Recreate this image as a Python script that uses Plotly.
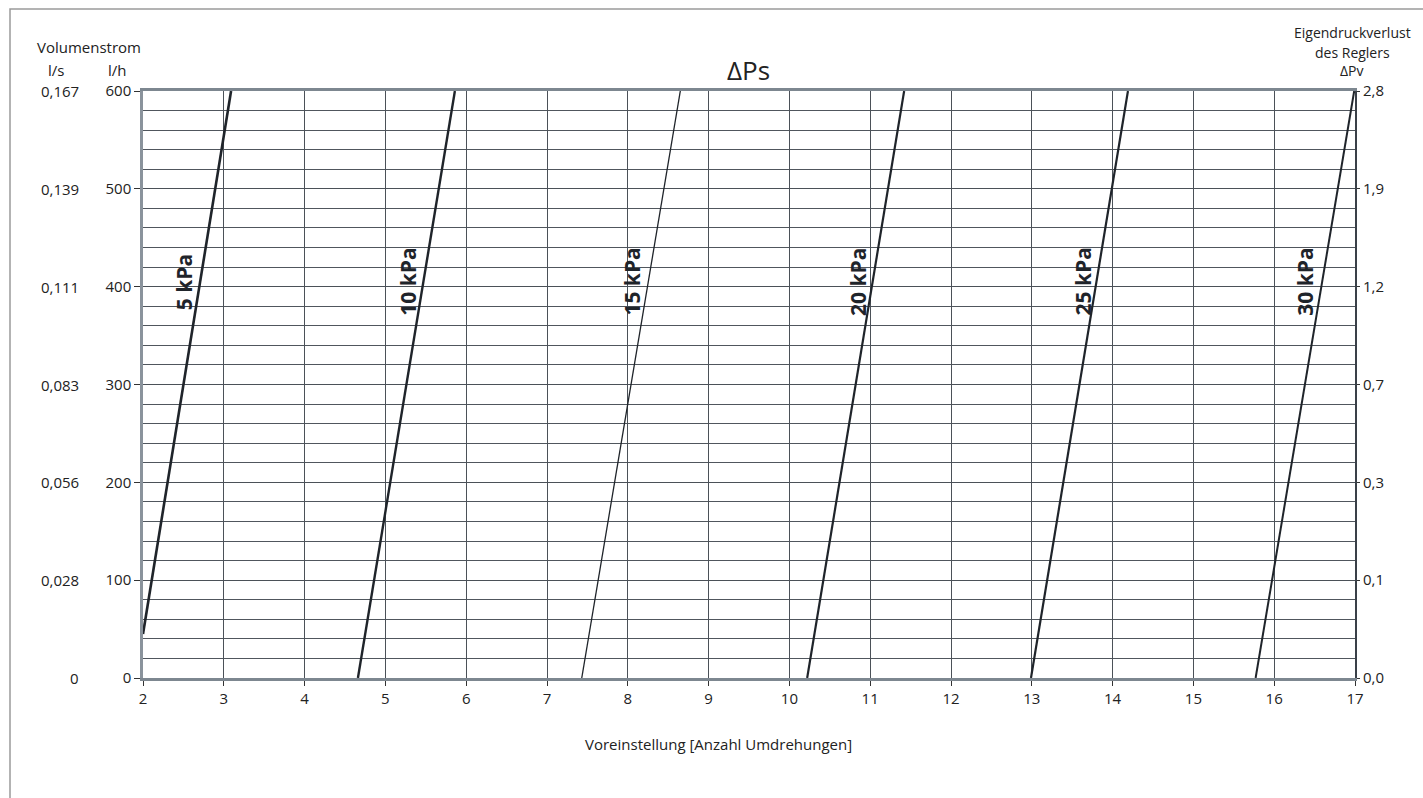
import plotly.graph_objects as go

# ---- data ----
flow_lh_ticks = [0, 100, 200, 300, 400, 500, 600]
flow_ls_labels = ["0", "0,028", "0,056", "0,083", "0,111", "0,139", "0,167"]
dpv_labels = ["0,0", "0,1", "0,3", "0,7", "1,2", "1,9", "2,8"]
x_ticks = list(range(2, 18))

curve_names = ["5 kPa", "10 kPa", "15 kPa", "20 kPa", "25 kPa", "30 kPa"]
curve_x = [[2.0, 3.09], [4.66, 5.86], [7.43, 8.65], [10.22, 11.42], [12.99, 14.19], [15.77, 16.99]]
curve_y = [[45, 600], [0, 600], [0, 600], [0, 600], [0, 600], [0, 600]]
label_x = [2.50, 5.28, 8.05, 10.84, 13.63, 16.38]
label_y = [405, 405, 405, 405, 405, 405]

W, H = 1423, 798
ML, MR, MT, MB = 143, 68, 91, 120
PW, PH = W - ML - MR, H - MT - MB
FONT = "Open Sans"
DARK = "#1f242a"


def px(xp):
    return (xp - ML) / PW


def py(yp):
    return (H - MB - yp) / PH


fig = go.Figure()
widths = [2.6, 2.4, 1.3, 2.2, 2.2, 2.0]
for name, xs, ys, w in zip(curve_names, curve_x, curve_y, widths):
    fig.add_trace(go.Scatter(x=xs, y=ys, mode="lines", name=name,
                             line=dict(color=DARK, width=w), showlegend=False,
                             hoverinfo="skip", cliponaxis=True))

# invisible trace for right axis
fig.add_trace(go.Scatter(x=[2, 17], y=[0, 600], yaxis="y2", mode="markers",
                         marker=dict(opacity=0), showlegend=False, hoverinfo="skip"))

ann = []
for name, lx, ly in zip(curve_names, label_x, label_y):
    ann.append(dict(x=lx, y=ly, xref="x", yref="y", text="<b>%s</b>" % name,
                    textangle=-90, showarrow=False, xanchor="center", yanchor="middle",
                    font=dict(family=FONT, size=21, color=DARK)))

for v, lab in zip(flow_lh_ticks, flow_ls_labels):
    ann.append(dict(x=0, y=v, xref="paper", yref="y", text=lab, showarrow=False,
                    xanchor="right", yanchor="middle", xshift=81 - ML,
                    font=dict(family=FONT, size=15, color="#222")))


def label(xp, yp, text, size=15):
    return dict(x=px(xp), y=py(yp), xref="paper", yref="paper", text=text,
                showarrow=False, xanchor="center", yanchor="middle",
                font=dict(family=FONT, size=size, color="#222"))


ann += [
    label(748, 70, "ΔPs", 26),
    label(89, 47, "Volumenstrom"),
    label(56, 70, "l/s"),
    label(117, 70, "l/h"),
    label(1352, 33, "Eigendruckverlust", 14),
    label(1352, 52, "des Reglers", 14),
    label(1352, 71, "ΔPv", 14),
    label(718, 744, "Voreinstellung [Anzahl Umdrehungen]"),
]

shapes = [
    dict(type="rect", xref="paper", yref="paper", x0=px(10), x1=px(1500), y0=py(900), y1=py(9),
         line=dict(color="#9a9a9a", width=1.5), layer="below"),
]

fig.update_layout(
    width=W, height=H,
    margin=dict(l=ML, r=MR, t=MT, b=MB),
    paper_bgcolor="white", plot_bgcolor="white",
    font=dict(family=FONT, size=15, color="#222"),
    xaxis=dict(range=[2, 17], tickvals=x_ticks, ticktext=[str(v) for v in x_ticks],
               showgrid=True, gridcolor="#4b5158", gridwidth=1.2,
               ticks="outside", ticklen=5, tickcolor="#333",
               showline=True, linecolor="#7d8790", linewidth=2.5, mirror=True,
               zeroline=False, tickfont=dict(family=FONT, size=15, color="#222")),
    yaxis=dict(range=[0, 600], tickvals=flow_lh_ticks, ticktext=[str(v) for v in flow_lh_ticks],
               showgrid=True, gridcolor="#4b5158", gridwidth=1.2,
               minor=dict(dtick=20, tick0=0, showgrid=True, gridcolor="#50565d", gridwidth=1.2),
               ticks="outside", ticklen=6, tickcolor="#333",
               showline=True, linecolor="#8a939c", linewidth=2.5,
               zeroline=False, tickfont=dict(family=FONT, size=15, color="#222")),
    yaxis2=dict(range=[0, 600], overlaying="y", side="right", tickvals=flow_lh_ticks,
                ticktext=dpv_labels, showgrid=False, ticks="outside", ticklen=3,
                tickcolor="#333", showline=True, linecolor="#3a4048", linewidth=2,
                zeroline=False, tickfont=dict(family=FONT, size=15, color="#222")),
    annotations=ann,
    shapes=shapes,
)

fig.write_html("out.html", config={"displayModeBar": False},
               post_script="document.body.style.margin='0';")
